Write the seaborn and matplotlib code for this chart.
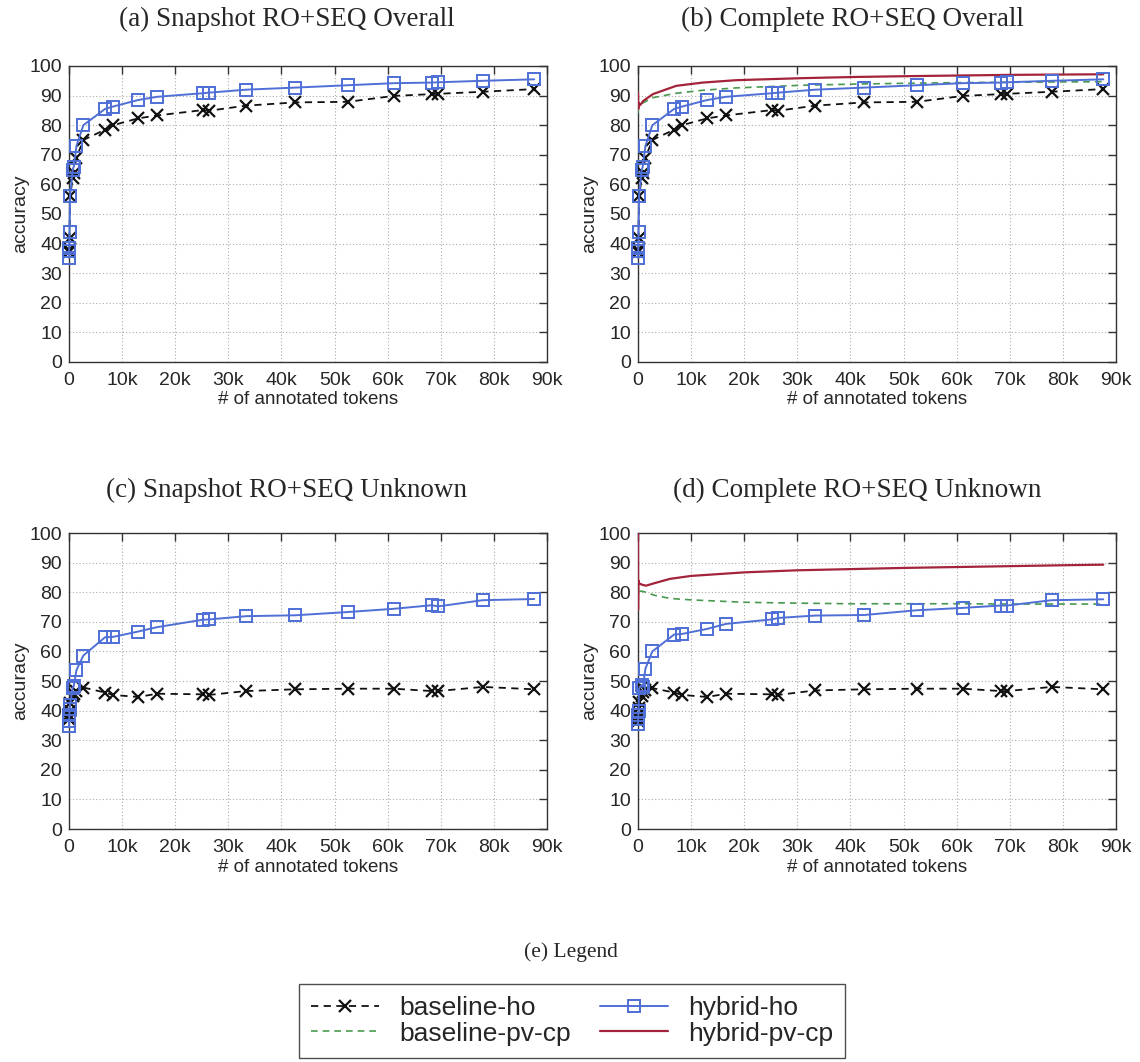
import numpy as np
import pandas as pd
import matplotlib
matplotlib.use("Agg")
import matplotlib.pyplot as plt
from matplotlib.lines import Line2D
import seaborn as sns

# token counts shared by the "ho" runs (markers)
x_pts = [0, 30, 60, 100, 200, 700, 900, 1400, 2700, 6800, 8300, 13000, 16600,
         25200, 26400, 33300, 42600, 52500, 61200, 68300, 69500, 77900, 87600]

# overall accuracy
hyb_ho_all = [35.2, 37.5, 38.5, 44, 56, 65, 66, 73, 80, 85.5, 86.3, 88.5, 89.6,
              90.8, 91, 92, 92.7, 93.5, 94.2, 94.4, 94.5, 95, 95.5]
base_ho_all = [37, 37.5, 38, 42, 56, 62, 64, 69, 75, 78.5, 80, 82.3, 83.3,
               85.1, 84.9, 86.6, 87.7, 87.9, 89.9, 90.5, 90.6, 91.3, 92.2]

# unknown-word accuracy
hyb_ho_unk_snap = [34.7, 36.4, 38.5, 40.5, 42, 47.8, 48.3, 53.7, 58.6, 64.8, 64.9, 66.7, 68.2,
                   70.7, 70.8, 71.9, 72.2, 73.3, 74.4, 75.6, 75.2, 77.3, 77.7]
base_ho_unk_snap = [37, 37.5, 38.5, 40, 42.7, 44.9, 45.5, 46.5, 47.8, 46.1, 45.3, 44.6, 45.7,
                    45.5, 45.3, 46.6, 47.2, 47.4, 47.4, 46.6, 46.6, 48, 47.2]
hyb_ho_unk_comp = [35.5, 37, 38.5, 40, 47.5, 48.6, 48, 54.2, 60, 65.7, 65.9, 67.6, 69.3,
                   70.8, 71.3, 72.1, 72.3, 73.9, 74.7, 75.5, 75.5, 77.3, 77.6]
base_ho_unk_comp = [36.5, 37.5, 38.5, 41, 43, 45, 46.3, 46.8, 47.6, 46.1, 45.3, 44.6, 45.7,
                    45.5, 45.3, 46.8, 47.2, 47.4, 47.4, 46.6, 46.6, 48, 47.2]

# pv-cp curves (no markers)
pv_x_all = [0, 50, 150, 400, 1000, 2800, 7200, 12200, 18400, 31000, 41000, 52000, 61000, 70000, 78000, 87600]
hyb_pv_all = [91, 85.5, 87.5, 86.8, 88.2, 90.5, 93.3, 94.4, 95.2, 95.9, 96.3, 96.6, 96.8, 97, 97.1, 97.2]
base_pv_all = [84, 86, 86.5, 87, 87.6, 89.3, 90.8, 91.8, 92.6, 93.5, 93.9, 94.2, 94.4, 94.5, 94.6, 94.7]

pv_x_unk = [0, 10, 60, 200, 800, 1500, 3000, 6000, 10000, 20000, 30000, 40000, 50000, 60000, 70000, 80000, 87600]
hyb_pv_unk = [100, 74, 84, 83, 82.5, 82.2, 83, 84.5, 85.5, 86.7, 87.4, 87.8, 88.2, 88.5, 88.8, 89.1, 89.3]
base_pv_unk = [77, 80.5, 80.5, 80.4, 80.3, 80, 79, 77.9, 77.4, 76.6, 76.3, 76.1, 76.1, 76.1, 76, 76, 76]

x_ticks = [0, 10000, 20000, 30000, 40000, 50000, 60000, 70000, 80000, 90000]
x_labels = ["0", "10k", "20k", "30k", "40k", "50k", "60k", "70k", "80k", "90k"]

sns.set_theme(style="white")
plt.rcParams["font.family"] = ["Liberation Sans", "DejaVu Sans"]

C_BLUE = "#4f6fd6"
C_BLACK = "#111111"
C_GREEN = "#48994f"
C_RED = "#a3233a"
DASH = (0, (4, 3))

fig = plt.figure(figsize=(11.4, 10.62), dpi=100)
W, H = 1140, 1062


def make_ax(left, top):
    return fig.add_axes([left / W, 1 - (top + 296) / H, 478 / W, 296 / H])


def draw(ax, base_ho, hyb_ho, pv=None):
    if pv is not None:
        px, base_pv, hyb_pv = pv
        sns.lineplot(x=px, y=base_pv, ax=ax, sort=False, estimator=None, color=C_GREEN,
                     linestyle=DASH, lw=1.2, zorder=3)
        sns.lineplot(x=px, y=hyb_pv, ax=ax, sort=False, estimator=None, color=C_RED,
                     lw=1.6, zorder=4)
    sns.lineplot(x=x_pts, y=base_ho, ax=ax, sort=False, estimator=None, color=C_BLACK,
                 linestyle=DASH, lw=1.3, marker="x", markersize=9,
                 markeredgewidth=1.6, markeredgecolor=C_BLACK,
                 clip_on=False, zorder=5)
    sns.lineplot(x=x_pts, y=hyb_ho, ax=ax, sort=False, estimator=None, color=C_BLUE,
                 lw=1.4, marker="s", markersize=8.5, markerfacecolor="none",
                 markeredgecolor=C_BLUE, markeredgewidth=1.4,
                 clip_on=False, zorder=6)
    ax.set_xlim(0, 90000)
    ax.set_ylim(0, 100)
    ax.set_xticks(x_ticks)
    ax.set_xticklabels(x_labels)
    ax.set_yticks(range(0, 101, 10))
    ax.grid(True, linestyle=(0, (1, 2)), color="#aaaaaa", lw=0.8)
    ax.tick_params(direction="in", top=True, right=True, length=6, width=1,
                   color="#333333", labelsize=14, pad=5)
    ax.tick_params(axis="x", pad=7)
    for s in ax.spines.values():
        s.set_color("#333333")
        s.set_linewidth(1)
    ax.set_xlabel("# of annotated tokens", fontsize=13.5, labelpad=2)
    ax.set_ylabel("accuracy", fontsize=14, labelpad=0)


ax_a = make_ax(69, 66)
ax_b = make_ax(638, 66)
ax_c = make_ax(69, 533)
ax_d = make_ax(638, 533)

draw(ax_a, base_ho_all, hyb_ho_all)
draw(ax_b, base_ho_all, hyb_ho_all, (pv_x_all, base_pv_all, hyb_pv_all))
draw(ax_c, base_ho_unk_snap, hyb_ho_unk_snap)
draw(ax_d, base_ho_unk_comp, hyb_ho_unk_comp, (pv_x_unk, base_pv_unk, hyb_pv_unk))

serif = ["Liberation Serif", "DejaVu Serif"]
fig.text(287 / W, 1 - 19 / H, "(a) Snapshot RO+SEQ Overall", ha="center", va="center", fontsize=19.5, family=serif)
fig.text(852 / W, 1 - 19 / H, "(b) Complete RO+SEQ Overall", ha="center", va="center", fontsize=19.5, family=serif)
fig.text(287 / W, 1 - 490 / H, "(c) Snapshot RO+SEQ Unknown", ha="center", va="center", fontsize=19.5, family=serif)
fig.text(857 / W, 1 - 490 / H, "(d) Complete RO+SEQ Unknown", ha="center", va="center", fontsize=19.5, family=serif)
fig.text(571 / W, 1 - 952 / H, "(e) Legend", ha="center", va="center", fontsize=15.5, family=serif)

handles = [
    Line2D([], [], color=C_BLACK, linestyle=DASH, lw=1.3, marker="x", markersize=9, markeredgewidth=1.6),
    Line2D([], [], color=C_GREEN, linestyle=DASH, lw=1.2),
    Line2D([], [], color=C_BLUE, lw=1.4, marker="s", markersize=8.5, markerfacecolor="none",
           markeredgecolor=C_BLUE, markeredgewidth=1.4),
    Line2D([], [], color=C_RED, lw=1.6),
]
labels = ["baseline-ho", "baseline-pv-cp", "hybrid-ho", "hybrid-pv-cp"]
leg = fig.legend(handles, labels, loc="center", bbox_to_anchor=(572 / W, 1 - 1021 / H), ncol=2,
                 frameon=True, fancybox=False, fontsize=19, handlelength=2.6, handletextpad=0.75,
                 columnspacing=1.1, labelspacing=0.05, borderpad=0.45, borderaxespad=0)
leg.get_frame().set_edgecolor("#222222")
leg.get_frame().set_linewidth(1)

fig.savefig("out.png", dpi=100)
